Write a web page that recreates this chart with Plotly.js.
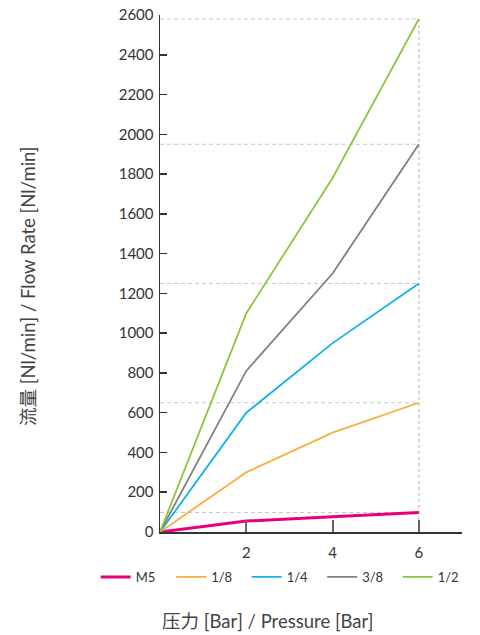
<!DOCTYPE html>
<html><head><meta charset="utf-8">
<script src="https://cdn.plot.ly/plotly-3.0.1.min.js"></script>
<style>html,body{margin:0;padding:0;background:#fff}#c{width:480px;height:635px}</style>
</head><body><div id="c"></div>
<script>
const pressure = [0, 2, 4, 6];
const seriesNames = ['M5', '1/8', '1/4', '3/8', '1/2'];
const m5 = [0, 55, 77, 98];
const g18 = [0, 300, 500, 650];
const g14 = [0, 600, 950, 1250];
const g38 = [0, 810, 1300, 1950];
const g12 = [0, 1100, 1780, 2580];
const yTicks = [0, 200, 400, 600, 800, 1000, 1200, 1400, 1600, 1800, 2000, 2200, 2400, 2600];
const xTicks = [2, 4, 6];

const colors = ['#e6007e', '#fbad3c', '#12b1ec', '#808080', '#8cc63f'];
const widths = [3, 1.8, 1.8, 1.8, 1.8];
const allSeries = [m5, g18, g14, g38, g12];
const FONT = 'Lato, "Noto Sans CJK SC", sans-serif';

const traces = allSeries.map((ys, i) => ({
  x: pressure, y: ys, name: seriesNames[i], type: 'scatter', mode: 'lines',
  line: {color: colors[i], width: widths[i]}
}));

const lastX = pressure[pressure.length - 1];
const shapes = allSeries.map(ys => ({
  type: 'line', xref: 'x', yref: 'y', x0: 0, x1: lastX, y0: ys[ys.length-1], y1: ys[ys.length-1],
  line: {color: '#c8c8c8', width: 1, dash: '4px,3px'}, layer: 'below'
}));
shapes.push({type: 'line', xref: 'x', yref: 'y', x0: lastX, x1: lastX, y0: 0, y1: g12[g12.length-1],
  line: {color: '#c8c8c8', width: 1.5, dash: '3px,3px'}, layer: 'below'});

const layout = {
  width: 480, height: 635,
  margin: {l: 160, r: 18, t: 15, b: 103},
  paper_bgcolor: '#fff', plot_bgcolor: '#fff',
  font: {family: FONT, color: '#333', size: 14},
  showlegend: true,
  legend: {orientation: 'h', x: -0.213, xanchor: 'left', y: -0.087, yanchor: 'middle',
    bgcolor: 'rgba(0,0,0,0)',
    font: {size: 13, color: '#333'}, entrywidth: 30.5, entrywidthmode: 'pixels',
    itemwidth: 30, tracegroupgap: 0, traceorder: 'normal'},
  xaxis: {range: [0, 7], tickvals: xTicks, ticktext: xTicks.map(String), ticks: 'inside', ticklen: 12,
    tickwidth: 2, tickcolor: '#666', showgrid: false, zeroline: false, showline: true,
    linecolor: '#333', linewidth: 1.5, tickfont: {size: 15, color: '#333'}, ticklabelstandoff: 6,
    fixedrange: true},
  yaxis: {range: [0, 2600], tickvals: yTicks, ticks: 'inside', ticklen: 7, tickwidth: 1.5,
    tickcolor: '#333', showgrid: false, zeroline: false, showline: true, linecolor: '#333',
    linewidth: 1.5, tickfont: {size: 15, color: '#333'}, ticklabelstandoff: 2, fixedrange: true},
  shapes: shapes,
  annotations: [
    {text: '压力 [Bar] / Pressure [Bar]', xref: 'paper', yref: 'paper', x: (267-160)/302, y: -(621-532)/517,
      xanchor: 'center', yanchor: 'middle', showarrow: false, font: {size: 18.5, color: '#444'}},
    {text: '流量 [Nl/min] / Flow Rate [Nl/min]', xref: 'paper', yref: 'paper', x: (28-160)/302, y: (532-286)/517,
      xanchor: 'center', yanchor: 'middle', showarrow: false, textangle: -90, font: {size: 18.5, color: '#444'}}
  ]
};
Plotly.newPlot('c', traces, layout, {displayModeBar: false, staticPlot: true});
</script></body></html>
